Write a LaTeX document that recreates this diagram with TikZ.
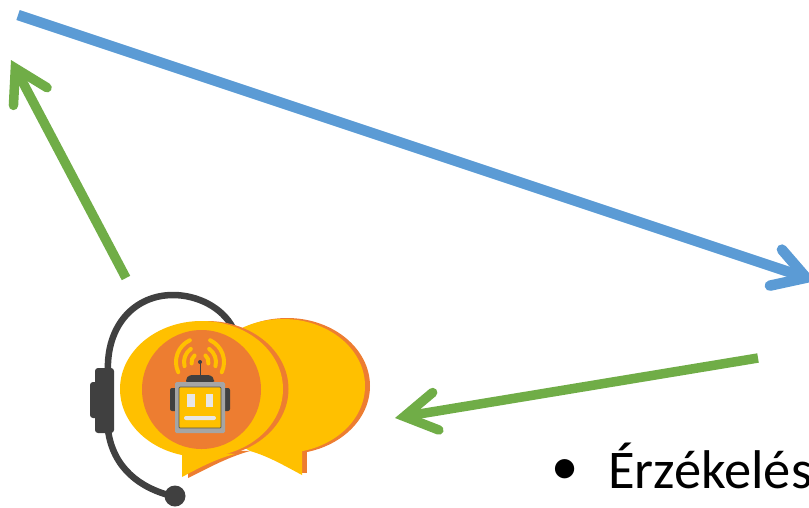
\documentclass[tikz,border=0pt]{standalone}
\usepackage{fontspec}
\setmainfont{Carlito}
\usetikzlibrary{arrows.meta}

\definecolor{botyellow}{HTML}{FFC000}
\definecolor{botorange}{HTML}{ED7D31}
\definecolor{botdark}{HTML}{404040}
\definecolor{botgray}{HTML}{A5A5A5}
\definecolor{boteye}{HTML}{E7E6E6}
\definecolor{flowblue}{HTML}{5B9BD5}
\definecolor{flowgreen}{HTML}{70AD47}

\begin{document}
\begin{tikzpicture}[
    x=1pt, y=-1pt,
    % Arrow styles
    flowtip/.style={-{Straight Barb[length=32pt, width=38pt, line cap=round, line join=miter]}},
    actuate/.style={draw=flowblue, line width=10.5pt, flowtip},
    sense/.style={draw=flowgreen, line width=9.5pt, flowtip},
    % Icon styles
    band/.style={draw=botdark, line width=6.5pt},
    wave/.style={draw=botyellow, line width=4pt, line cap=round},
    % Label styles
    bigtext/.style={font=\fontsize{54.5}{65}\selectfont, text=black, inner sep=0pt, anchor=base west},
]

\useasboundingbox (0,0) rectangle (809,507);
\clip (0,0) rectangle (809,507);

% Arrow ends
\coordinate (blue-start) at (18,15);
\coordinate (blue-end) at (816,281);
\coordinate (left-start) at (126,278);
\coordinate (left-end) at (11,60);
\coordinate (low-start) at (758,358);
\coordinate (low-end) at (395,418);

\draw[actuate] (blue-start) -- (blue-end);
\draw[sense] (left-start) -- (left-end);
\draw[sense] (low-start) -- (low-end);

% Headset
\draw[band] (108,372) .. controls (106,325) and (135,295) .. (173,295)
    .. controls (197,295) and (222,307) .. (233,328);
\draw[band] (108,430) .. controls (113,468) and (140,488) .. (172,496);
\fill[botdark] (175,496) circle[radius=10.5pt];
\fill[botdark, rounded corners=3pt] (95,368) rectangle (114,433);
\fill[botdark, rounded corners=3pt] (90,382) rectangle (100,418);

% Rear bubble
\fill[botorange] (287,386) circle[x radius=83pt, y radius=68pt];
\fill[botorange] (302,450) -- (307,450) -- (307,473) -- (302,473) -- cycle;
\fill[botyellow] (283,386) circle[x radius=82pt, y radius=67pt];
\fill[botyellow] (240,445) -- (250,451) .. controls (268,456) and (285,466) .. (302,475) -- (302,445) -- cycle;

% Front bubble
\fill[botorange] (207,389) circle[x radius=81.5pt, y radius=68pt];
\fill[botorange] (188,450) -- (188,478) .. controls (205,470) and (225,458) .. (250,451) -- cycle;
\fill[botyellow] (201.5,389) circle[x radius=81.5pt, y radius=68pt];
\fill[botyellow] (182,450) -- (182,477) .. controls (197,469) and (215,459) .. (235,454) -- cycle;
\fill[botorange] (201.5,389.5) circle[radius=59.5pt];

% Robot
\draw[wave] (200,362) ++(205:24pt) arc[start angle=205, end angle=115, radius=24pt];
\draw[wave] (200,362) ++(-25:24pt) arc[start angle=-25, end angle=65, radius=24pt];
\draw[wave] (200,362) ++(195:16pt) arc[start angle=195, end angle=125, radius=16pt];
\draw[wave] (200,362) ++(-15:16pt) arc[start angle=-15, end angle=55, radius=16pt];
\draw[wave] (200,362) ++(190:8.5pt) arc[start angle=190, end angle=130, radius=8.5pt];
\draw[wave] (200,362) ++(-10:8.5pt) arc[start angle=-10, end angle=50, radius=8.5pt];
\draw[botdark, line width=1pt] (200,362) -- (200,376);
\fill[botdark] (200,362) circle[radius=2pt];
\fill[botdark, rounded corners=3pt] (186,383) -- (186,379) -- (189,375) -- (211,375) -- (214,379) -- (214,383) -- cycle;
\fill[botdark, rounded corners=2pt] (170,388) rectangle (180,411);
\fill[botdark, rounded corners=2pt] (220,388) rectangle (230,411);
\fill[botgray, rounded corners=1.5pt] (175,382) rectangle (225,433);
\draw[fill=botyellow, draw=botdark!80!botgray, line width=0.7pt, rounded corners=1pt] (179,387) rectangle (221,428);
\fill[boteye] (187,394) rectangle (195,407);
\fill[boteye] (206,394) rectangle (213,407);
\fill[boteye, rounded corners=2pt] (184,416) rectangle (216,420);

% Text
\node[bigtext] (bullet) at (551,484) {•};
\node[bigtext] (sensing) at (608,488) {Érzékelés};

\end{tikzpicture}
\end{document}
